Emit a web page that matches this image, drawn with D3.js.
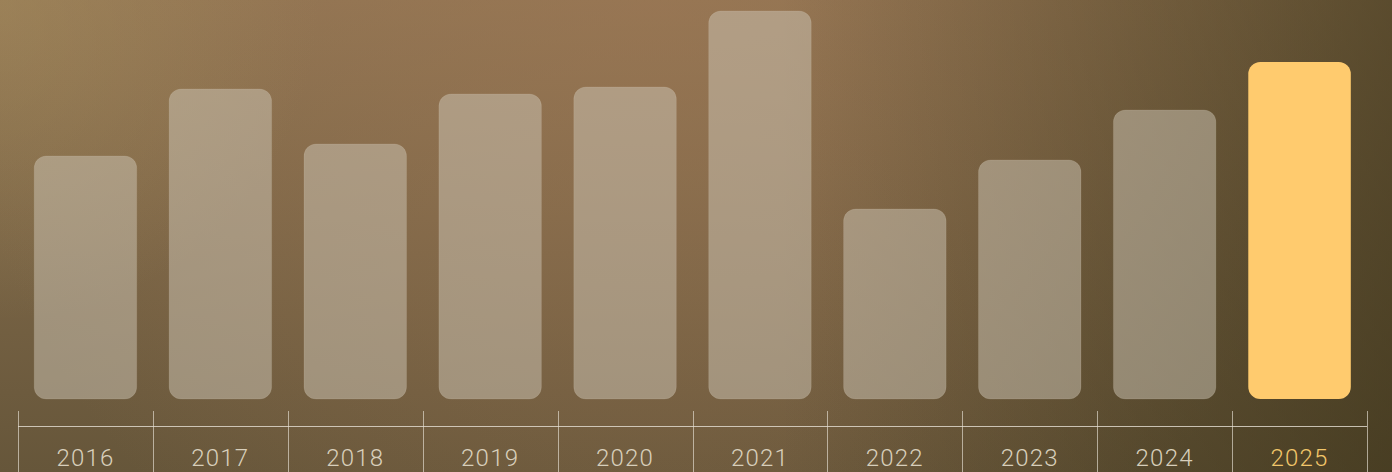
<!DOCTYPE html>
<html>
<head>
<meta charset="utf-8">
<script src="https://cdn.jsdelivr.net/npm/d3@7"></script>
<style>
  html, body { margin: 0; padding: 0; background: #5a4a30; }
  svg { display: block; }
</style>
</head>
<body>
<svg id="chart" width="1392" height="472"></svg>
<script>
const categories = ["2016", "2017", "2018", "2019", "2020", "2021", "2022", "2023", "2024", "2025"];
const values = [243, 310, 255, 305, 312, 388, 190, 239, 289, 337];
const highlight = "2025";

const W = 1392, H = 472;
const svg = d3.select("#chart");
const defs = svg.append("defs");

// background: vertical base
const lg = defs.append("linearGradient").attr("id", "bgLin")
  .attr("x1", 0).attr("y1", 0).attr("x2", 0).attr("y2", 1);
lg.append("stop").attr("offset", 0).attr("stop-color", "#8f7452");
lg.append("stop").attr("offset", 1).attr("stop-color", "#66563a");

// warm highlight near top centre
const rg = defs.append("radialGradient").attr("id", "bgRad")
  .attr("gradientUnits", "userSpaceOnUse")
  .attr("cx", 650).attr("cy", 0).attr("r", 700);
rg.append("stop").attr("offset", 0).attr("stop-color", "#a07855").attr("stop-opacity", 0.5);
rg.append("stop").attr("offset", 1).attr("stop-color", "#a07855").attr("stop-opacity", 0);

// golden glow top-left
const rg2 = defs.append("radialGradient").attr("id", "bgRad2")
  .attr("gradientUnits", "userSpaceOnUse")
  .attr("cx", 0).attr("cy", 0).attr("r", 320);
rg2.append("stop").attr("offset", 0).attr("stop-color", "#aa915f").attr("stop-opacity", 0.45);
rg2.append("stop").attr("offset", 1).attr("stop-color", "#aa915f").attr("stop-opacity", 0);

// darker olive toward the right
const lg2 = defs.append("linearGradient").attr("id", "bgRight")
  .attr("gradientUnits", "userSpaceOnUse")
  .attr("x1", 780).attr("y1", 0).attr("x2", 1392).attr("y2", 0);
lg2.append("stop").attr("offset", 0).attr("stop-color", "#302a10").attr("stop-opacity", 0);
lg2.append("stop").attr("offset", 1).attr("stop-color", "#302a10").attr("stop-opacity", 0.55);

svg.append("rect").attr("width", W).attr("height", H).attr("fill", "url(#bgLin)");
svg.append("rect").attr("width", W).attr("height", H).attr("fill", "url(#bgRad)");
svg.append("rect").attr("width", W).attr("height", H).attr("fill", "url(#bgRad2)");
svg.append("rect").attr("width", W).attr("height", H).attr("fill", "url(#bgRight)");

// scales
const x = d3.scaleBand().domain(categories).range([18, 1367])
  .paddingInner(0.24).paddingOuter(0.12);
const y = d3.scaleLinear().domain([0, 388]).range([399, 11]);

// bars
svg.append("g").selectAll("rect")
  .data(categories)
  .join("rect")
  .attr("x", d => x(d))
  .attr("width", x.bandwidth())
  .attr("y", (d, i) => y(values[i]))
  .attr("height", (d, i) => y(0) - y(values[i]))
  .attr("rx", 12).attr("ry", 12)
  .attr("fill", d => d === highlight ? "#ffcb6e" : "rgba(205,198,182,0.5)")
  .attr("stroke", d => d === highlight ? "none" : "rgba(230,222,205,0.12)")
  .attr("stroke-width", 1);

// axis
const axisY = 426.5;
const ag = svg.append("g");
ag.append("line")
  .attr("x1", x.range()[0]).attr("x2", x.range()[1])
  .attr("y1", axisY).attr("y2", axisY)
  .attr("stroke", "rgba(230,224,212,0.8)").attr("stroke-width", 1);

const bounds = categories.map(c => x(c) - x.step() * x.paddingInner() / 2);
bounds[0] = x.range()[0];
bounds.push(x.range()[1]);
ag.selectAll("line.tick")
  .data(bounds)
  .join("line")
  .attr("class", "tick")
  .attr("x1", d => Math.round(d) + 0.5).attr("x2", d => Math.round(d) + 0.5)
  .attr("y1", 411).attr("y2", H)
  .attr("stroke", "rgba(230,224,212,0.65)").attr("stroke-width", 1);

ag.selectAll("text")
  .data(categories)
  .join("text")
  .attr("x", d => x(d) + x.bandwidth() / 2)
  .attr("y", 466)
  .attr("text-anchor", "middle")
  .attr("font-family", "Roboto, 'Noto Sans', sans-serif")
  .attr("font-size", 24)
  .attr("font-weight", 300)
  .attr("letter-spacing", "1.2px")
  .attr("fill", d => d === highlight ? "#f2c66a" : "#d8cfbb")
  .text(d => d);
</script>
</body>
</html>
